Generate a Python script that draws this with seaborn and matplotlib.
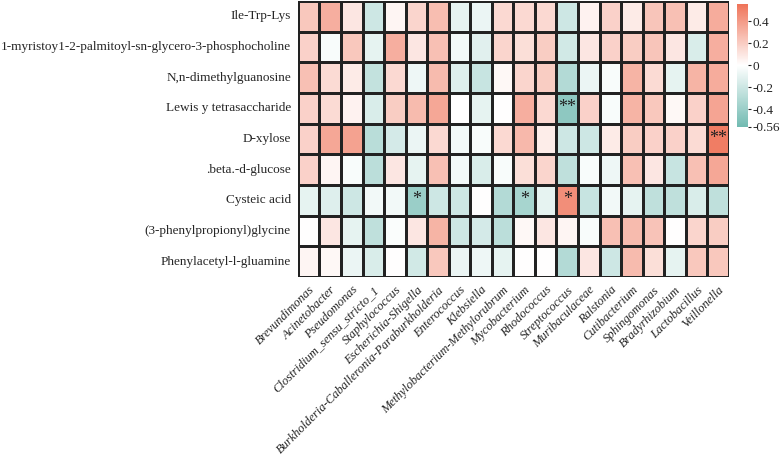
import numpy as np
import pandas as pd
import matplotlib
matplotlib.use("Agg")
import matplotlib.pyplot as plt
from matplotlib.colors import LinearSegmentedColormap
import seaborn as sns

# Métabolites (lignes) et genres bactériens (colonnes)
metabolites = [
    "Ile-Trp-Lys",
    "1-myristoy1-2-palmitoyl-sn-glycero-3-phosphocholine",
    "N,n-dimethylguanosine",
    "Lewis y tetrasaccharide",
    "D-xylose",
    ".beta.-d-glucose",
    "Cysteic acid",
    "(3-phenylpropionyl)glycine",
    "Phenylacetyl-l-gluamine",
]
genera = [
    "Brevundimonas", "Acinetobacter", "Pseudomonas", "Clostridium_sensu_stricto_1",
    "Staphylococcus", "Escherichia-Shigella", "Burkholderia-Caballeronia-Paraburkholderia",
    "Enterococcus", "Klebsiella", "Methylobacterium-Methylorubrum", "Mycobacterium",
    "Rhodococcus", "Streptococcus", "Muribaculaceae", "Ralstonia", "Cutibacterium",
    "Sphingomonas", "Bradyrhizobium", "Lactobacillus", "Veillonella",
]

# Corrélations
r_ile = [0.22, 0.32, 0.10, -0.20, 0.04, 0.17, 0.26, -0.10, -0.08, 0.15,
         0.15, 0.15, -0.20, 0.05, 0.18, 0.08, 0.23, 0.25, 0.08, 0.33]
r_myr = [0.18, -0.03, 0.22, -0.10, 0.32, 0.10, 0.25, -0.05, -0.12, 0.17,
         0.13, 0.20, -0.18, 0.10, 0.18, 0.20, 0.23, 0.10, -0.15, 0.32]
r_dmg = [0.25, 0.14, 0.08, -0.24, 0.15, -0.07, 0.27, -0.13, -0.22, 0.03,
         0.17, 0.20, -0.30, -0.08, -0.03, 0.30, 0.14, -0.10, 0.30, 0.33]
r_lew = [0.18, 0.14, 0.05, -0.15, 0.20, 0.27, 0.35, 0.00, -0.10, 0.00,
         0.32, 0.15, -0.45, 0.18, -0.03, 0.30, 0.22, 0.03, 0.18, 0.36]
r_xyl = [0.18, 0.35, 0.37, -0.28, -0.17, -0.08, 0.15, -0.05, -0.03, 0.15,
         0.28, 0.07, -0.20, -0.20, 0.08, 0.20, 0.18, 0.18, 0.14, 0.52]
r_glc = [0.18, 0.04, -0.03, -0.27, 0.10, -0.10, 0.25, -0.05, -0.15, -0.03,
         0.13, 0.17, -0.25, -0.03, -0.07, 0.25, 0.10, -0.22, 0.25, 0.35]
r_cys = [-0.10, -0.13, -0.20, -0.05, -0.05, -0.40, -0.20, -0.20, 0.00, -0.30,
         -0.35, -0.10, 0.45, -0.22, -0.05, -0.10, -0.25, -0.25, -0.15, -0.25]
r_ppg = [0.00, 0.10, -0.10, -0.25, -0.02, 0.10, 0.30, -0.20, -0.17, -0.27,
         0.03, 0.10, 0.04, -0.03, 0.25, 0.27, 0.24, 0.00, 0.17, 0.20]
r_pag = [0.04, 0.03, -0.08, -0.15, 0.00, -0.18, 0.22, -0.08, -0.07, -0.10,
         0.00, 0.00, -0.30, 0.10, -0.20, 0.27, 0.13, -0.10, 0.22, 0.22]

# Significativité (* p<0.05, ** p<0.01)
stars = {(6, 5): "*", (6, 10): "*", (6, 12): "*", (3, 12): "**", (4, 19): "**"}

corr = pd.DataFrame([r_ile, r_myr, r_dmg, r_lew, r_xyl, r_glc, r_cys, r_ppg, r_pag],
                    index=metabolites, columns=genera)
annot = pd.DataFrame("", index=metabolites, columns=genera)
for (i, j), s in stars.items():
    annot.iat[i, j] = s

sns.set_style("white")
plt.rcParams["font.family"] = ["Liberation Serif", "DejaVu Serif"]

cmap = LinearSegmentedColormap.from_list("tw_sal", ["#72bbb2", "#ffffff", "#ef7358"])

fig = plt.figure(figsize=(7.82, 4.58), dpi=100)
ax = fig.add_axes([0.381, 0.395, 0.551, 0.603])
cax = fig.add_axes([0.9425, 0.723, 0.014, 0.269])

sns.heatmap(corr, ax=ax, cbar_ax=cax, cmap=cmap, vmin=-0.56, vmax=0.56, center=0,
            annot=annot, fmt="", annot_kws={"size": 13, "color": "#222222", "va": "top"},
            linewidths=1, linecolor="#222222",
            cbar_kws={"ticks": [0.4, 0.2, 0, -0.2, -0.4, -0.56]})

# remonter légèrement les étoiles vers le centre
for t in ax.texts:
    x, y = t.get_position()
    t.set_position((x, y - 0.3))

ax.tick_params(axis="both", length=3, width=0.8, color="#333333", pad=2)
ax.set_xticklabels(genera, rotation=45, ha="right", rotation_mode="anchor",
                   fontstyle="italic", fontsize=9)
ax.set_yticklabels(metabolites, rotation=0, fontsize=9.5)
ax.set_xlabel("")
ax.set_ylabel("")

cb = ax.collections[0].colorbar
cb.outline.set_visible(False)
cb.ax.tick_params(labelsize=9.5, length=2, pad=1)
cb.ax.set_yticklabels(["0.4", "0.2", "0", "-0.2", "-0.4", "-0.56"])

plt.savefig("out.png", dpi=100)
